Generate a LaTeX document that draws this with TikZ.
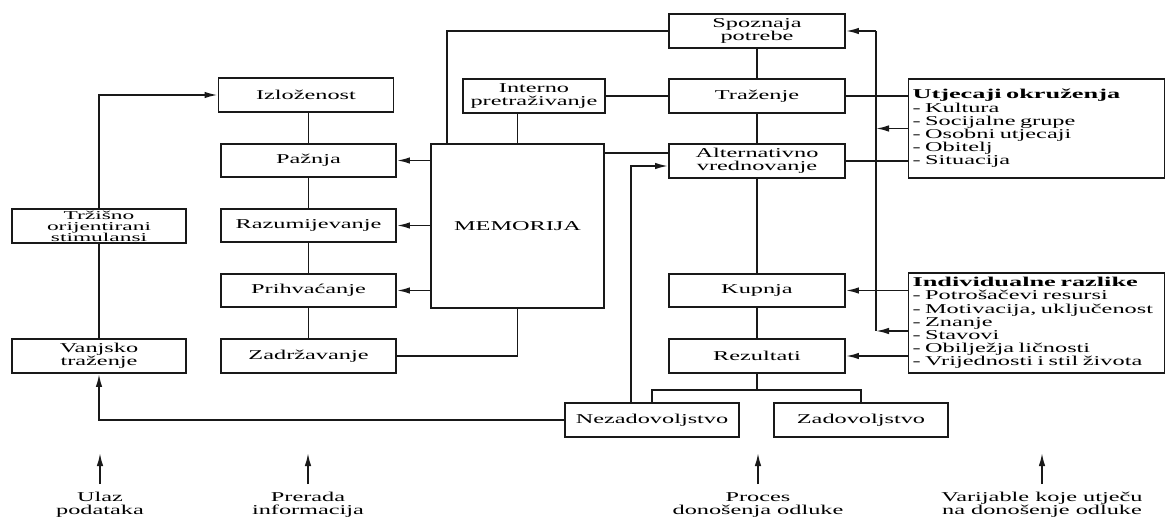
\documentclass[tikz,border=0pt]{standalone}
\usepackage{fontspec}
\newfontfamily\bxfont{Liberation Serif}[FakeStretch=1.8]
\newfontfamily\trzfont{Liberation Serif}[FakeStretch=1.95]
\newfontfamily\lsfont{Liberation Serif}[FakeStretch=1.8]
\newfontfamily\hdfont{Liberation Serif}[FakeStretch=1.95]
\usetikzlibrary{arrows.meta}
\tikzset{
  bx/.style={draw=black!90, line width=1.9pt, minimum height=34pt, minimum width=176pt,
    inner sep=0pt, align=center, text=black, font=\bxfont\fontsize{13.5}{13}\selectfont},
  listbox/.style={bx, minimum width=256pt, text width=248pt, align=left,
    font=\lsfont\fontsize{13.5}{13.2}\selectfont},
  ln/.style={line width=1.7pt, draw=black!90},
  arr/.style={ln, -{Latex[length=13pt,width=6.5pt]}},
  lab/.style={anchor=north, inner sep=0pt, align=center, text=black,
    font=\bxfont\fontsize{13.5}{13}\selectfont}
}
\begin{document}
\begin{tikzpicture}[x=1pt,y=-1pt]
\useasboundingbox (0,0) rectangle (1167,518);
% information processing column
\node[bx, minimum width=175pt] (Izlo) at (306,95) {Izloženost};
\node[bx, minimum width=175pt, minimum height=33pt] (Pazn) at (308.5,160.5) {Pažnja};
\node[bx, minimum width=175pt, minimum height=33pt] (Razu) at (308.5,225.5) {Razumijevanje};
\node[bx, minimum width=175pt, minimum height=33pt] (Prih) at (308.5,290.5) {Prihvaćanje};
\node[bx, minimum width=175pt] (Zadr) at (308.5,356) {Zadržavanje};
% input column
\node[bx, minimum width=174pt, font=\trzfont\fontsize{12}{11}\selectfont] (Trz) at (99,226) {Tržišno\\orijentirani\\stimulansi};
\node[bx, minimum width=174pt] (Vanj) at (99,356) {Vanjsko\\traženje};
% memory
\node[bx, minimum width=142pt] (Int) at (534,96) {Interno\\pretraživanje};
\node[bx, minimum width=173pt, minimum height=164pt] (Mem) at (517.5,226) {MEMORIJA};
% decision column
\node[bx] (Spoz) at (757,31) {Spoznaja\\potrebe};
\node[bx] (Traz) at (757,96) {Traženje};
\node[bx, font=\bxfont\fontsize{13.5}{12.5}\selectfont] (Alt) at (757,161) {Alternativno\\vrednovanje};
\node[bx, minimum height=33pt] (Kup) at (757,290.5) {Kupnja};
\node[bx] (Rez) at (757,356) {Rezultati};
\node[bx, minimum width=174pt] (Nez) at (652,420) {Nezadovoljstvo};
\node[bx, minimum width=174pt] (Zad) at (861,420) {Zadovoljstvo};
% variables
\node[listbox, minimum height=99pt] (Utj) at (1036.5,128.5)
  {{\hdfont\bfseries Utjecaji okruženja}\\- Kultura\\- Socijalne grupe\\- Osobni utjecaji\\- Obitelj\\- Situacija};
\node[listbox, minimum height=100pt] (Ind) at (1036.5,323)
  {{\hdfont\bfseries Individualne razlike}\\- Potrošačevi resursi\\- Motivacija, uključenost\\- Znanje\\- Stavovi\\- Obilježja ličnosti\\- Vrijednosti i stil života};
% bottom labels
\node[lab] (L1) at (100,492) {Ulaz\\podataka};
\node[lab] (L2) at (308,492) {Prerada\\informacija};
\node[lab] (L3) at (758,492) {Proces\\donošenja odluke};
\node[lab] (L4) at (1042,492) {Varijable koje utječu\\na donošenje odluke};
\foreach \L in {L1,L2,L3,L4}
  \draw[arr] ([yshift=8pt]\L.north) -- ([yshift=39pt]\L.north);
% helper coordinates
\coordinate (fb) at (876,0);
\coordinate (na) at (631,0);
\coordinate (me) at ([yshift=-10pt]Mem.north east);
\coordinate (mt) at ([xshift=17pt]Mem.north west);
\coordinate (fz) at ([yshift=-8pt]Ind.west);
\coordinate (br) at ([yshift=-16pt]Rez.south);
% left side
\draw[arr] (Trz.north) |- (Izlo.west);
\draw[ln] (Vanj.north) -- (Trz.south);
\draw[arr] (Nez.west) -| (Vanj.south);
% processing chain
\draw[ln] (Pazn.north |- Izlo.south) -- (Pazn.north);
\draw[ln] (Pazn.south) -- (Razu.north);
\draw[ln] (Razu.south) -- (Prih.north);
\draw[ln] (Prih.south) -- (Zadr.north);
\draw[arr] (Mem.west |- Pazn.east) -- (Pazn.east);
\draw[arr] (Mem.west |- Razu.east) -- (Razu.east);
\draw[arr] (Mem.west |- Prih.east) -- (Prih.east);
\draw[ln] (Zadr.east) -| (Mem.south);
% memory links
\draw[ln] (mt) |- (Spoz.west);
\draw[ln] (Mem.north) -- (Mem.north |- Int.south);
\draw[ln] (Int.east) -- (Traz.west);
\draw[ln] (me) -- (me -| Alt.west);
% decision chain
\draw[ln] (Spoz.south) -- (Traz.north);
\draw[ln] (Traz.south) -- (Alt.north);
\draw[ln] (Alt.south) -- (Kup.north);
\draw[ln] (Kup.south) -- (Rez.north);
\draw[ln] (Rez.south) -- (br);
\draw[ln] (Nez.north) -- (Nez.north |- br) -- (Zad.north |- br) -- (Zad.north);
\draw[arr] (na |- Nez.north) |- ([yshift=-5pt]Alt.west);
% influences
\draw[ln] (Traz.east) -- (Traz.east -| Utj.west);
\draw[ln] (Alt.east) -- (Alt.east -| Utj.west);
\draw[ln] (fb |- Spoz.east) -- (fb |- fz);
\draw[arr] (fb |- Spoz.east) -- (Spoz.east);
\draw[arr] (Utj.west) -- (Utj.west -| fb);
\draw[arr] (fz) -- (fz -| fb);
\draw[arr] (Ind.west |- Kup.east) -- (Kup.east);
\draw[arr] (Ind.west |- Rez.east) -- (Rez.east);
\end{tikzpicture}
\end{document}
